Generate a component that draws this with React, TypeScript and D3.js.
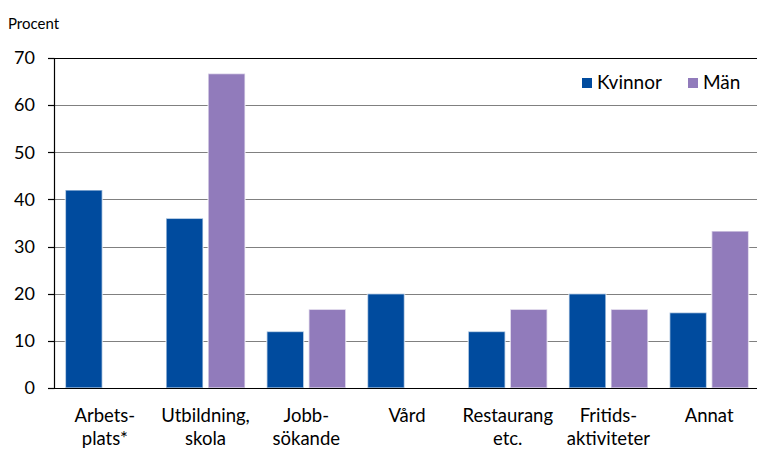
import * as d3 from "d3";
import { useRef, useEffect } from "react";

const categories = ["Arbetsplats", "Utbildning", "Jobbsokande", "Vard", "Restaurang", "Fritid", "Annat"];
const categoryLabels = [
    ["Arbets-", "plats*"],
    ["Utbildning,", "skola"],
    ["Jobb-", "sökande"],
    ["Vård"],
    ["Restaurang", "etc."],
    ["Fritids-", "aktiviteter"],
    ["Annat"],
];
const kvinnor = [42, 36, 12, 20, 12, 20, 16];
const man = [0, 66.7, 16.7, 0, 16.7, 16.7, 33.3];
const seriesNames = ["Kvinnor", "Män"];
const yTicks = [0, 10, 20, 30, 40, 50, 60, 70];

const colors = ["#004b9e", "#917bbb"];

const App = () => {
    const chartRef = useRef(null);

    const width = 757;
    const height = 450;
    const margin = { top: 58, bottom: 62, left: 54.5, right: -2.5 };

    useEffect(() => {
        const svg = d3.select(chartRef.current);
        svg.selectAll("*").remove();

        const scaleX = d3
            .scaleBand()
            .domain(categories)
            .range([margin.left, width - margin.right])
            .paddingInner(0.2155)
            .paddingOuter(0.1077);

        const scaleSub = d3
            .scaleBand()
            .domain(seriesNames)
            .range([0, scaleX.bandwidth()])
            .paddingInner(0.12);

        const scaleY = d3
            .scaleLinear()
            .domain([0, 70])
            .range([height - margin.bottom, margin.top]);

        const font = "Lato, 'Open Sans', sans-serif";

        // y-achsen text
        svg.append("text")
            .attr("x", 8)
            .attr("y", 29)
            .style("font-family", font)
            .style("font-size", "15px")
            .text("Procent");

        // gitterlinjer
        svg.append("g")
            .selectAll("line")
            .data(yTicks.filter(t => t > 0))
            .enter()
            .append("line")
            .attr("x1", 54)
            .attr("x2", width)
            .attr("y1", d => Math.round(scaleY(d)) + 0.5)
            .attr("y2", d => Math.round(scaleY(d)) + 0.5)
            .style("stroke", d => d === 70 ? "#000" : "#808080")
            .style("stroke-width", 1.2);

        // staplar
        const data = [kvinnor, man];
        data.forEach((values, i) => {
            svg.append("g")
                .selectAll("rect")
                .data(categories)
                .enter()
                .append("rect")
                .attr("x", c => scaleX(c) + scaleSub(seriesNames[i]))
                .attr("y", (c, j) => scaleY(values[j]))
                .attr("width", scaleSub.bandwidth())
                .attr("height", (c, j) => scaleY(0) - scaleY(values[j]))
                .style("fill", colors[i])
                .style("stroke", "#ffffff")
                .style("stroke-opacity", 0.6)
                .style("stroke-width", 1.5)
                .style("display", (c, j) => values[j] > 0 ? null : "none");
        });

        // axlar
        const y0 = Math.round(scaleY(0)) + 0.5;
        svg.append("line")
            .attr("x1", 54.5).attr("x2", 54.5)
            .attr("y1", Math.round(scaleY(70)))
            .attr("y2", y0)
            .style("stroke", "#000")
            .style("stroke-width", 1.2);
        svg.append("line")
            .attr("x1", 48).attr("x2", width)
            .attr("y1", y0).attr("y2", y0)
            .style("stroke", "#000")
            .style("stroke-width", 1.2);

        svg.append("g")
            .selectAll("line")
            .data(yTicks)
            .enter()
            .append("line")
            .attr("x1", 48).attr("x2", 54.5)
            .attr("y1", d => Math.round(scaleY(d)) + 0.5)
            .attr("y2", d => Math.round(scaleY(d)) + 0.5)
            .style("stroke", "#000")
            .style("stroke-width", 1.2);

        svg.append("g")
            .selectAll("text")
            .data(yTicks)
            .enter()
            .append("text")
            .attr("x", 35)
            .attr("y", d => scaleY(d))
            .attr("dy", "0.35em")
            .attr("text-anchor", "end")
            .style("font-family", font)
            .style("font-size", "18px")
            .text(d => d);

        // kategorier
        const labelG = svg.append("g");
        categories.forEach((c, i) => {
            const cx = scaleX(c) + scaleX.bandwidth() / 2;
            categoryLabels[i].forEach((line, k) => {
                labelG.append("text")
                    .attr("x", cx)
                    .attr("y", 422 + k * 23)
                    .attr("text-anchor", "middle")
                    .style("font-family", font)
                    .style("font-size", "18.5px")
                    .text(line);
            });
        });

        // legend
        const legendX = [582, 688];
        seriesNames.forEach((name, i) => {
            svg.append("rect")
                .attr("x", legendX[i])
                .attr("y", 78)
                .attr("width", 10)
                .attr("height", 10)
                .style("fill", colors[i]);
            svg.append("text")
                .attr("x", legendX[i] + 15)
                .attr("y", 89)
                .style("font-family", font)
                .style("font-size", "19px")
                .text(name);
        });
    }, []);

    return (
        <svg ref={chartRef} width={width} height={height}
             style={{ position: "absolute", left: 0, top: 0, background: "#fff" }}></svg>
    );
};

export default App;
